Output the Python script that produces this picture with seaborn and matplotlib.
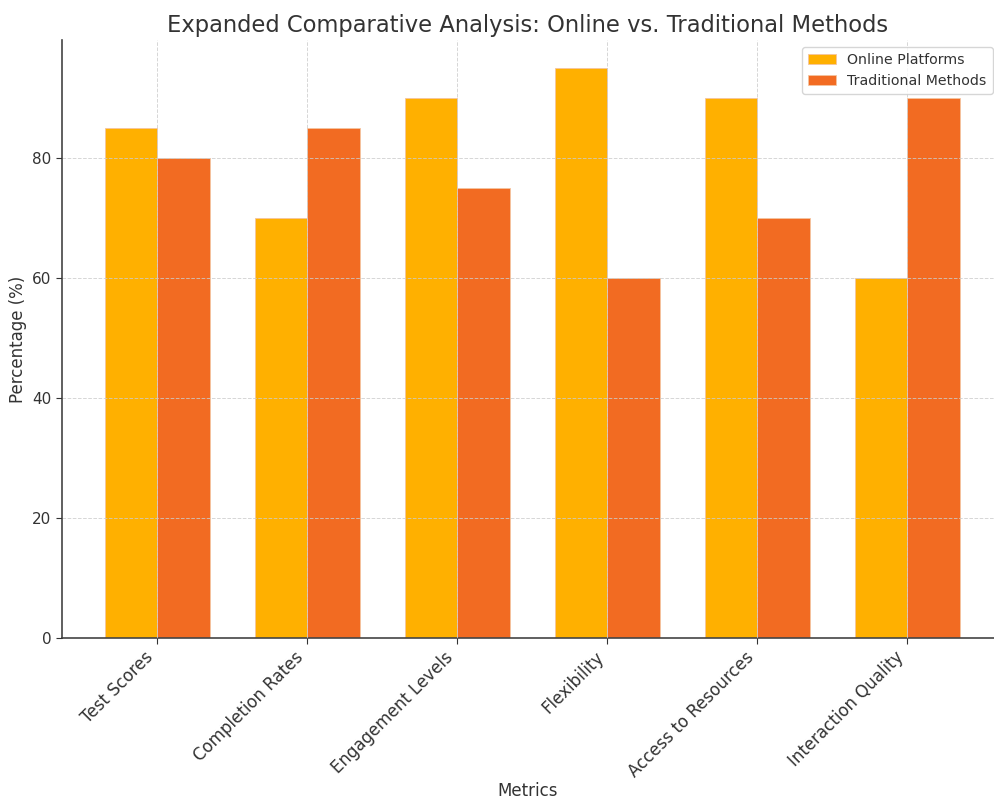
import pandas as pd
import seaborn as sns
import matplotlib
matplotlib.use("Agg")
import matplotlib.pyplot as plt

sns.set_style("white")
plt.rcParams['font.family'] = ['DejaVu Sans']

metrics = ["Test Scores", "Completion Rates", "Engagement Levels", "Flexibility",
           "Access to Resources", "Interaction Quality"]
online = [85, 70, 90, 95, 90, 60]
traditional = [80, 85, 75, 60, 70, 90]
series = ["Online Platforms", "Traditional Methods"]
colors = ["#FFB000", "#F26B22"]

df = pd.DataFrame({
    "Metrics": metrics * 2,
    "Percentage": online + traditional,
    "Method": [series[0]] * len(metrics) + [series[1]] * len(metrics),
})

fig = plt.figure(figsize=(9.94, 7.99), dpi=100)
ax = fig.add_axes([62 / 994, 1 - 638 / 799, 932 / 994, 598 / 799])

sns.barplot(data=df, x="Metrics", y="Percentage", hue="Method", palette=colors,
            width=0.7, gap=0, saturation=1, edgecolor="#f4c4a0", linewidth=0.6, ax=ax)

ax.set_xlim(-0.635, 5.578)
ax.set_ylim(0, 99.75)
ax.set_yticks([0, 20, 40, 60, 80])
ax.grid(True, linestyle="--", color="#cccccc", linewidth=0.7, alpha=0.8)
ax.set_axisbelow(False)

for s in ["top", "right"]:
    ax.spines[s].set_visible(False)
for s in ["left", "bottom"]:
    ax.spines[s].set_color("#444444")
    ax.spines[s].set_linewidth(1.2)

ax.tick_params(axis="both", colors="#333333", length=4, width=0.8, left=True, bottom=True)
plt.setp(ax.get_xticklabels(), rotation=45, ha="right", fontsize=12, color="#333333")
plt.setp(ax.get_yticklabels(), fontsize=11, color="#333333")

ax.set_title("Expanded Comparative Analysis: Online vs. Traditional Methods",
             fontsize=16.3, color="#333333", pad=6)
ax.set_xlabel("Metrics", fontsize=12, color="#333333", labelpad=1)
ax.set_ylabel("Percentage (%)", fontsize=12, color="#333333")

leg = ax.legend(loc="upper right", bbox_to_anchor=(1.006, 1.0), fontsize=10.2,
                frameon=True, title=None)
for t in leg.get_texts():
    t.set_color("#333333")

fig.savefig("out.png", dpi=100)
